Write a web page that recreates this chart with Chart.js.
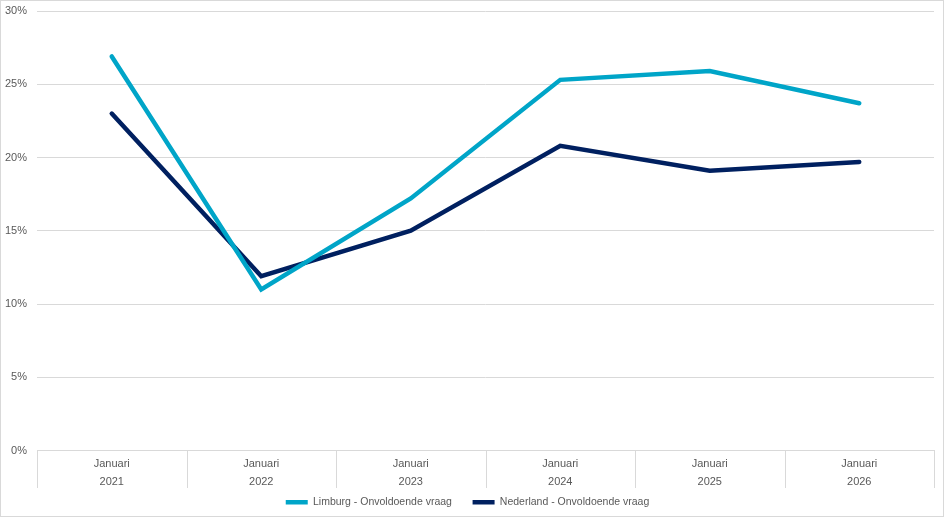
<!DOCTYPE html>
<html>
<head>
<meta charset="utf-8">
<script src="https://cdn.jsdelivr.net/npm/chart.js@4.4.1/dist/chart.umd.min.js"></script>
<style>
  html, body { margin: 0; padding: 0; background: #fff; }
  #wrap {
    width: 944px; height: 517px; box-sizing: border-box;
    border: 1px solid #d9d9d9; position: relative;
  }
  canvas { display: block; }
</style>
</head>
<body>
<div id="wrap"><canvas id="chart" width="942" height="515"></canvas></div>
<script>
// Data
const months = ['Januari', 'Januari', 'Januari', 'Januari', 'Januari', 'Januari'];
const years = ['2021', '2022', '2023', '2024', '2025', '2026'];
const limburg = [26.9, 11.0, 17.2, 25.3, 25.9, 23.7];
const nederland = [23.0, 11.9, 15.0, 20.8, 19.1, 19.7];
const yTicks = [0, 5, 10, 15, 20, 25, 30];

const labels = years.map((y, i) => [months[i], y]);
const textColor = '#595959';
const gridColor = '#d9d9d9';
const fontFamily = 'Liberation Sans, Arial, sans-serif';

// vertical separators between the categories, below the x axis
const categorySeparators = {
    id: 'categorySeparators',
    afterDraw(chart) {
        const x = chart.scales.x;
        const c = chart.ctx;
        const n = chart.data.labels.length;
        c.save();
        c.strokeStyle = gridColor;
        c.lineWidth = 1;
        for (let i = 0; i <= n; i++) {
            let px;
            if (i === 0) px = x.left;
            else if (i === n) px = x.right;
            else px = (x.getPixelForValue(i - 1) + x.getPixelForValue(i)) / 2;
            px = Math.round(px) + 0.5;
            c.beginPath();
            c.moveTo(px, x.top);
            c.lineTo(px, x.bottom);
            c.stroke();
        }
        c.restore();
    }
};

const ctx = document.getElementById('chart').getContext('2d');
new Chart(ctx, {
    type: 'line',
    data: {
        labels: labels,
        datasets: [
            {
                label: 'Limburg - Onvoldoende vraag',
                data: limburg,
                borderColor: '#00A5C8',
                backgroundColor: '#00A5C8',
                borderWidth: 4.5,
                pointRadius: 0,
                borderCapStyle: 'round',
                tension: 0
            },
            {
                label: 'Nederland - Onvoldoende vraag',
                data: nederland,
                borderColor: '#002060',
                backgroundColor: '#002060',
                borderWidth: 4.5,
                pointRadius: 0,
                borderCapStyle: 'round',
                tension: 0
            }
        ]
    },
    plugins: [categorySeparators],
    options: {
        responsive: false,
        animation: false,
        layout: { padding: { top: 10, right: 9, left: 0, bottom: 0 } },
        plugins: {
            tooltip: { enabled: false },
            legend: {
                position: 'bottom',
                maxHeight: 28,
                labels: {
                    color: textColor,
                    font: { family: fontFamily, size: 10.5 },
                    usePointStyle: true,
                    pointStyle: 'line',
                    pointStyleWidth: 22,
                    boxWidth: 22,
                    padding: 9,
                    generateLabels: (chart) => {
                        const items = Chart.defaults.plugins.legend.labels.generateLabels(chart);
                        // wider gap between the two entries
                        items.forEach((it, i) => {
                            if (i < items.length - 1) it.text = it.text + '    ';
                        });
                        return items;
                    }
                }
            }
        },
        scales: {
            x: {
                offset: true,
                afterFit: (scale) => { scale.height = 37.5; },
                grid: { display: false, drawTicks: false },
                border: { display: true, color: gridColor },
                ticks: {
                    color: textColor,
                    font: { family: fontFamily, size: 11, lineHeight: 1.6 },
                    padding: 5,
                    maxRotation: 0,
                    autoSkip: false
                }
            },
            y: {
                min: 0,
                max: 30,
                afterBuildTicks: (scale) => {
                    scale.ticks = yTicks.map(v => ({ value: v }));
                },
                afterFit: (scale) => {
                    scale.width = 36;
                    scale.paddingTop = 0;
                },
                grid: { color: gridColor, drawTicks: false },
                border: { display: false },
                ticks: {
                    color: textColor,
                    font: { family: fontFamily, size: 11 },
                    padding: 10,
                    callback: (v) => v + '%'
                }
            }
        }
    }
});
</script>
</body>
</html>
